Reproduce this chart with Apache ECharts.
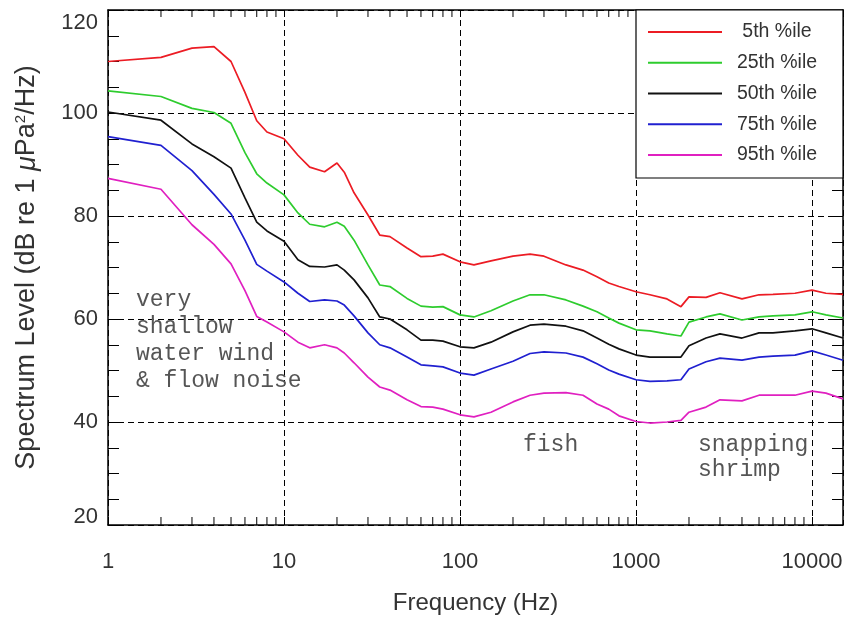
<!DOCTYPE html>
<html><head><meta charset="utf-8">
<script src="https://cdn.jsdelivr.net/npm/echarts@6/dist/echarts.min.js"></script>
<style>html,body{margin:0;padding:0;background:#fff}#c{width:847px;height:621px}</style>
</head><body><div id="c"></div>
<script>
// Frequencies (Hz) where the curves were read
const freqs = [1,2,3,4,5,6,7,8,10,12,14,17,20,22,25,30,35,40,50,60,70,80,100,120,150,200,250,300,400,500,600,700,800,1000,1200,1500,1800,2000,2500,3000,4000,5000,6000,8000,10000,12000,15000];
const p5  = [110,110.8,112.6,112.9,110,104,98.5,96.3,95,91.8,89.5,88.6,90.3,88.5,84.5,80.2,76.3,76,73.8,72.1,72.2,72.6,71.1,70.5,71.3,72.2,72.6,72.2,70.5,69.5,68.2,67,66.3,65.3,64.7,63.9,62.4,64.3,64.2,65.1,63.9,64.7,64.8,65,65.6,65,64.8];
const p25 = [104.3,103.2,100.9,100.1,98,92.3,88.2,86.4,84.1,80.6,78.4,77.9,78.8,78,75.3,70.5,66.6,66.3,64,62.5,62.3,62.4,60.8,60.4,61.6,63.5,64.7,64.7,63.7,62.5,61.4,60.2,59.2,57.9,57.7,57.1,56.7,59.4,60.4,61,59.8,60.4,60.6,60.8,61.4,60.8,60.2];
const p50 = [100.2,98.6,94,91.5,89.3,83.5,78.8,77.1,75.1,71.5,70.2,70.1,70.5,69.5,67.6,64.1,60.4,60,57.9,55.9,55.9,55.7,54.6,54.4,55.5,57.5,58.8,59,58.6,57.7,56.3,55.1,54.2,53,52.6,52.6,52.6,54.8,56.3,57.1,56.3,57.3,57.3,57.7,58.1,57.3,56.3];
const p75 = [95.4,93.7,88.8,84.2,80.4,75.3,70.6,69.3,67.2,65,63.4,63.7,63.5,62.7,60.6,57.3,55,54.4,52.6,51.1,50.9,50.7,49.5,49.1,50.3,51.8,53.3,53.6,53.4,52.6,51.3,50.1,49.3,48.2,47.9,48,48.2,50.3,51.7,52.4,52,52.6,52.8,53,53.8,53,52];
const p95 = [87.3,85.2,78.3,74.5,70.7,65.5,60.5,59.4,57.5,55.5,54.4,55,54.4,53.4,51.5,48.7,46.8,46.2,44.3,43,42.9,42.5,41.4,41,41.9,43.9,45.2,45.6,45.7,45.2,43.5,42.5,41.2,40.1,39.8,40,40.3,41.9,42.9,44.3,44.1,45.2,45.2,45.2,46,45.6,44.5];

const seriesNames = ['5th %ile','25th %ile','50th %ile','75th %ile','95th %ile'];
const seriesValues = [p5, p25, p50, p75, p95];
const seriesColors = ['#ec1c24','#2ecc2e','#111111','#2020d0','#e020c0'];

const xTickLabels = ['1','10','100','1000','10000'];
const yTickLabels = [20,40,60,80,100,120];
const minorFreqs = [2,3,4,5,6,7,8,9,20,30,40,50,60,70,80,90,200,300,400,500,600,700,800,900,2000,3000,4000,5000,6000,7000,8000,9000];

const xMin = 1, xMax = 15000, yMin = 20, yMax = 120;
const FONT = "'Liberation Sans', Arial, Helvetica, sans-serif";
const MONO = "'Courier New', 'Liberation Mono', monospace";
const TXT = '#333';

const chart = echarts.init(document.getElementById('c'), null, {renderer: 'canvas'});

const dash = {color: '#000', width: 1, type: [6, 4]};

const lineSeries = seriesNames.map((name, i) => ({
  name: name,
  type: 'line',
  xAxisIndex: 0, yAxisIndex: 0,
  data: freqs.map((f, k) => [f, seriesValues[i][k]]),
  showSymbol: false,
  symbol: 'none',
  lineStyle: {color: seriesColors[i], width: 1.7},
  itemStyle: {color: seriesColors[i]},
  z: 3,
  animation: false
}));

const minorTickSeries = {
  type: 'custom',
  xAxisIndex: 0, yAxisIndex: 0,
  silent: true,
  animation: false,
  data: minorFreqs.map(f => [f, yMin]),
  encode: {x: 0, y: 1},
  renderItem: function (params, api) {
    const f = api.value(0);
    const pb = api.coord([f, yMin]);
    const pt = api.coord([f, yMax]);
    return {
      type: 'group',
      children: [
        {type: 'line', shape: {x1: pb[0], y1: pb[1], x2: pb[0], y2: pb[1] - 8}, style: {stroke: '#000', lineWidth: 1}},
        {type: 'line', shape: {x1: pt[0], y1: pt[1], x2: pt[0], y2: pt[1] + 7}, style: {stroke: '#000', lineWidth: 1}}
      ]
    };
  },
  z: 4
};

const xLabelFmt = function (v) {
  const s = String(Math.round(v));
  return xTickLabels.indexOf(s) >= 0 && Math.abs(v - Math.round(v)) < 1e-6 ? s : '';
};

const option = {
  animation: false,
  backgroundColor: '#fff',
  textStyle: {fontFamily: FONT},
  grid: {left: 108, top: 10, right: 4, bottom: 96, containLabel: false},
  legend: {
    data: seriesNames,
    orient: 'vertical',
    left: 636, top: 10,
    padding: [12, 16, 13, 12],
    icon: 'rect',
    itemWidth: 74, itemHeight: 2, itemGap: 10.75,
    backgroundColor: '#fff',
    borderColor: '#000', borderWidth: 1.2,
    formatter: name => '{c|' + name + '}',
    textStyle: {
      rich: {c: {width: 100, align: 'center', fontSize: 19.5, lineHeight: 20, color: TXT, fontFamily: FONT}}
    },
    z: 10
  },
  xAxis: [
    {
      type: 'log', logBase: 10, min: xMin, max: xMax, position: 'bottom',
      axisLine: {show: true, onZero: false, lineStyle: {color: '#000', width: 1.5}},
      axisTick: {show: true, inside: true, length: 8, lineStyle: {color: '#000'}},
      minorTick: {show: false},
      axisLabel: {formatter: xLabelFmt, fontSize: 22, color: TXT, margin: 26, fontFamily: FONT, showMaxLabel: false},
      splitLine: {show: true, lineStyle: dash},
      name: 'Frequency (Hz)', nameLocation: 'middle', nameGap: 66,
      nameTextStyle: {fontSize: 24, color: TXT, fontFamily: FONT}
    },
    {
      type: 'log', logBase: 10, min: xMin, max: xMax, position: 'top',
      axisLine: {show: true, onZero: false, lineStyle: {color: '#000', width: 1.5}},
      axisTick: {show: true, inside: true, length: 7, lineStyle: {color: '#000'}},
      axisLabel: {show: false},
      splitLine: {show: false}
    }
  ],
  yAxis: [
    {
      type: 'value', min: yMin, max: yMax, interval: 20, position: 'left',
      axisLine: {show: true, onZero: false, lineStyle: {color: '#000', width: 1.5}},
      axisTick: {show: true, inside: true, length: 11, lineStyle: {color: '#000'}},
      minorTick: {show: true, splitNumber: 4, length: 11, lineStyle: {color: '#000'}},
      axisLabel: {
        fontSize: 22, color: TXT, margin: 10, fontFamily: FONT,
        formatter: v => yTickLabels.indexOf(v) < 0 ? '' : (v === 120 ? '{t|120}' : (v === 20 ? '{b|20}' : String(v))),
        rich: {
          t: {fontSize: 22, color: TXT, fontFamily: FONT, padding: [26, 0, 0, 0]},
          b: {fontSize: 22, color: TXT, fontFamily: FONT, padding: [0, 0, 16, 0]}
        }
      },
      splitLine: {show: true, lineStyle: dash},
      name: 'Spectrum Level (dB re 1 {i|μ}Pa{s|2}/Hz)',
      nameLocation: 'middle', nameGap: 67, nameRotate: 90,
      nameTextStyle: {
        fontSize: 27, color: TXT, fontFamily: FONT,
        rich: {
          i: {fontSize: 27, color: TXT, fontFamily: FONT, fontStyle: 'italic'},
          s: {fontSize: 15, color: TXT, fontFamily: FONT, padding: [0, 0, 13, 0]}
        }
      }
    },
    {
      type: 'value', min: yMin, max: yMax, interval: 20, position: 'right',
      axisLine: {show: true, onZero: false, lineStyle: {color: '#000', width: 1.5}},
      axisTick: {show: true, inside: true, length: 11, lineStyle: {color: '#000'}},
      minorTick: {show: true, splitNumber: 4, length: 11, lineStyle: {color: '#000'}},
      axisLabel: {show: false},
      splitLine: {show: false}
    }
  ],
  graphic: [
    {type: 'text', left: 136, top: 286, z: 5, silent: true,
     style: {text: 'very\nshallow\nwater wind\n& flow noise', font: '23px ' + MONO, fill: '#555', lineHeight: 27}},
    {type: 'text', left: 523, top: 432, z: 5, silent: true,
     style: {text: 'fish', font: '23px ' + MONO, fill: '#555', lineHeight: 26}},
    {type: 'text', left: 698, top: 432, z: 5, silent: true,
     style: {text: 'snapping\nshrimp', font: '23px ' + MONO, fill: '#555', lineHeight: 25}}
  ],
  series: lineSeries.concat([minorTickSeries])
};

chart.setOption(option);
</script>
</body></html>
